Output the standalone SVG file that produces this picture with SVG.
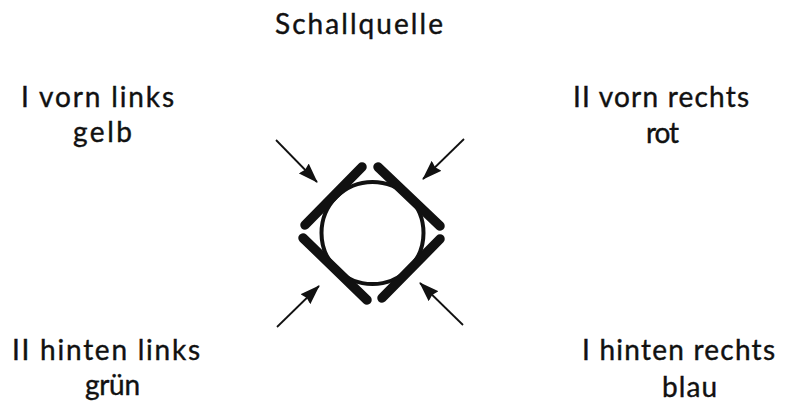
<svg xmlns="http://www.w3.org/2000/svg" width="785" height="403" viewBox="0 0 785 403">
<style>
text{font-family:"Lato","Liberation Sans",sans-serif;font-size:28px;fill:#111;stroke:#111;stroke-width:.4}
.bar{stroke:#111;stroke-width:9.5;stroke-linecap:round;fill:none}
.ar{stroke:#111;stroke-width:1.8;fill:none;marker-end:url(#a)}
</style>
<defs><marker id="a" markerWidth="20" markerHeight="14" refX="19" refY="7" orient="auto" markerUnits="userSpaceOnUse"><path d="M0 0L20 7L0 14L2 7Z" fill="#111"/></marker></defs>
<rect width="785" height="403" fill="#fff"/>
<g id="schallquelle"><text x="275" y="34" textLength="168" lengthAdjust="spacing">Schallquelle</text></g>
<g id="vl"><text x="21" y="107" textLength="153" lengthAdjust="spacing">I vorn links</text><text x="73" y="142" textLength="59" lengthAdjust="spacing">gelb</text></g>
<g id="vr"><text x="573" y="107" textLength="176" lengthAdjust="spacing">II vorn rechts</text><text x="646" y="143" textLength="33" lengthAdjust="spacing">rot</text></g>
<g id="hl"><text x="12" y="360" textLength="188" lengthAdjust="spacing">II hinten links</text><text x="85" y="395" textLength="55" lengthAdjust="spacing">grün</text></g>
<g id="hr"><text x="582" y="360" textLength="193" lengthAdjust="spacing">I hinten rechts</text><text x="662" y="397" textLength="55" lengthAdjust="spacing">blau</text></g>
<g id="mikrofon"><circle cx="372.5" cy="233" r="51" fill="none" stroke="#111" stroke-width="4"/>
<path class="bar" d="M305 225L362 167M378 167L440 226M303 238L367 300M382 298L440 239"/></g>
<g id="connectors">
<path class="ar" d="M276 140L317 182"/><path class="ar" d="M464 139L423 179"/><path class="ar" d="M277 327L319 286"/><path class="ar" d="M463 325L420 283"/></g>
</svg>
